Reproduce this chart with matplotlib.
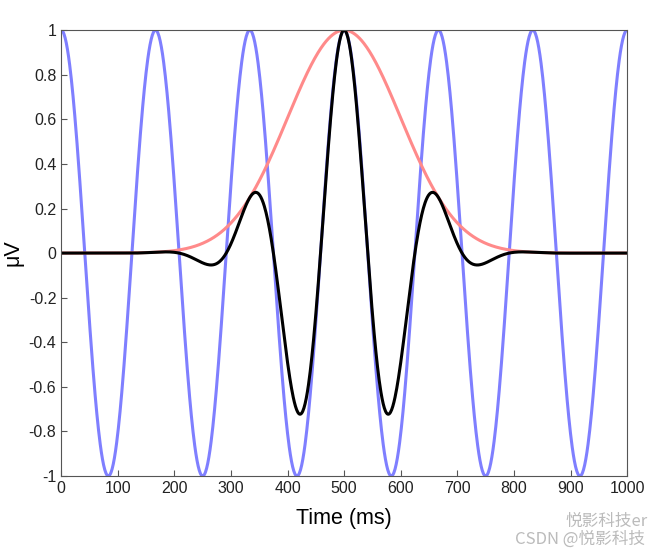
import matplotlib
matplotlib.use("Agg")
import matplotlib.pyplot as plt
import numpy as np

# values
time_ms = np.arange(0, 1001)      # 0..1000 ms, 1 ms steps
freq_hz = 6                       # 6 peaks of the blue wave per second
center_ms = 500                   # gaussian peak
sigma_ms = 100                    # gaussian width (about 0.6 at 600 ms)
xticks = [0, 100, 200, 300, 400, 500, 600, 700, 800, 900, 1000]
yticks = [-1, -0.8, -0.6, -0.4, -0.2, 0, 0.2, 0.4, 0.6, 0.8, 1]

t = (time_ms - center_ms) / 1000.0
sine = np.cos(2 * np.pi * freq_hz * t)
gaus = np.exp(-(time_ms - center_ms) ** 2 / (2.0 * sigma_ms ** 2))
wavelet = sine * gaus

plt.rcParams['font.family'] = ['Liberation Sans', 'DejaVu Sans']

fig = plt.figure(figsize=(6.65, 5.49), dpi=100)
ax = fig.add_axes([0.092, 0.133, 0.851, 0.812])

ax.plot(time_ms, sine, color='#7f7fff', lw=2.2)
ax.plot(time_ms, gaus, color='#ff8a8a', lw=2.2)
ax.plot(time_ms, wavelet, color='k', lw=2.2)

ax.set_xlim(0, 1000)
ax.set_ylim(-1, 1)
ax.set_xticks(xticks)
ax.set_xticklabels([str(v) for v in xticks])
ax.set_yticks(yticks)
ax.set_yticklabels([('%g' % v) for v in yticks])
ax.tick_params(direction='in', labelsize=11.5, length=4, color='#555555', labelcolor='#222222')
for s in ax.spines.values():
    s.set_color('#555555')
    s.set_linewidth(0.8)

ax.set_xlabel("Time (ms)", fontsize=15.5, labelpad=9)
ax.set_ylabel("\u03bcV", fontsize=15.5, labelpad=4)

# watermark
wm = ['Noto Sans CJK SC', 'DejaVu Sans']
fig.text(0.85, 0.05, "悦影科技er", family=wm, fontsize=12, color='#bbbbbb', ha='left', va='center')
fig.text(0.775, 0.018, "CSDN @悦影科技", family=wm, fontsize=12, color='#bbbbbb', ha='left', va='center')

plt.savefig("out.png", dpi=100)
